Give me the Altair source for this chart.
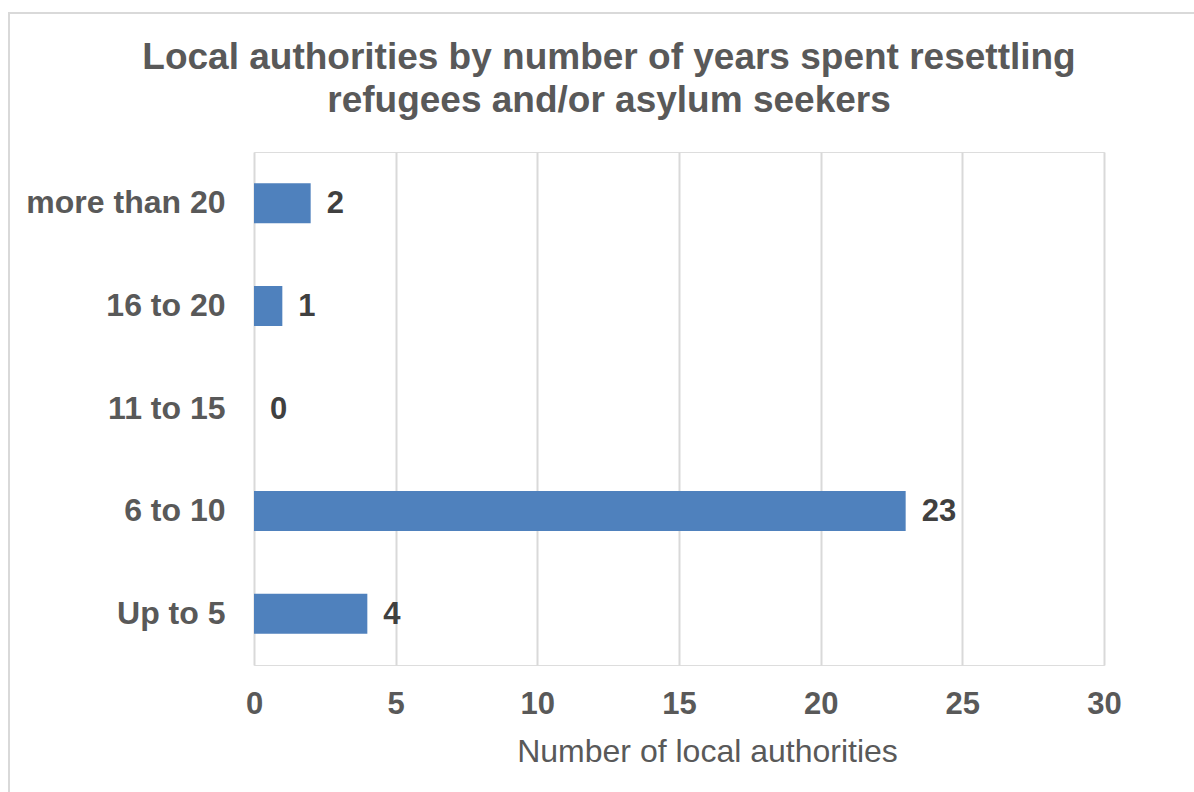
import altair as alt
import pandas as pd

categories = ["more than 20", "16 to 20", "11 to 15", "6 to 10", "Up to 5"]
counts = [2, 1, 0, 23, 4]
title_lines = ["Local authorities by number of years spent resettling", "refugees and/or asylum seekers"]

df = pd.DataFrame({"category": categories, "count": counts})

FONT = "Liberation Sans"

y_enc = alt.Y(
    "category:N",
    sort=categories,
    scale=alt.Scale(paddingInner=0, paddingOuter=0),
    axis=alt.Axis(
        title=None, domain=False, ticks=False, grid=False,
        labelFont=FONT, labelFontSize=32, labelFontWeight="bold",
        labelColor="#595959", labelPadding=29, labelLimit=400,
    ),
)
x_enc = alt.X(
    "count:Q",
    scale=alt.Scale(domain=[0, 30], nice=False),
    axis=alt.Axis(
        title="Number of local authorities", values=[0, 5, 10, 15, 20, 25, 30],
        domain=False, ticks=False, grid=True, gridColor="#d9d9d9", gridWidth=2,
        labelFont=FONT, labelFontSize=31, labelFontWeight="bold",
        labelColor="#595959", labelPadding=24, labelFlush=False,
        titleFont=FONT, titleFontSize=32, titleFontWeight="normal",
        titleColor="#595959", titlePadding=17, titleX=453, titleAlign="center",
    ),
)

bars = alt.Chart(df).mark_bar(size=40, color="#4f81bd").encode(x=x_enc, y=y_enc)
labels = alt.Chart(df).mark_text(
    align="left", baseline="middle", dx=16, dy=1, font=FONT, fontSize=31,
    fontWeight="bold", color="#404040",
).encode(x="count:Q", y=alt.Y("category:N", sort=categories), text="count:Q")

one = pd.DataFrame({"a": [0]})
border = alt.Chart(one).mark_rect(
    fillOpacity=0, stroke="#d9d9d9", strokeWidth=2
).encode(x=alt.value(-245), x2=alt.value(950), y=alt.value(-139), y2=alt.value(660))

title = alt.Chart(one).mark_text(
    text=title_lines, font=FONT, fontSize=37, fontWeight="bold", color="#595959",
    lineHeight=43, align="center", baseline="alphabetic",
).encode(x=alt.value(355), y=alt.value(-83))

chart = alt.layer(border, bars, labels, title).properties(
    width=850,
    height=513,
    autosize=alt.AutoSizeParams(type="none"),
    padding={"left": 254, "top": 152, "right": 90, "bottom": 127},
).configure_view(stroke=None).configure(background="white")

chart.save("out.html", embed_options={"renderer": "svg", "actions": False})
